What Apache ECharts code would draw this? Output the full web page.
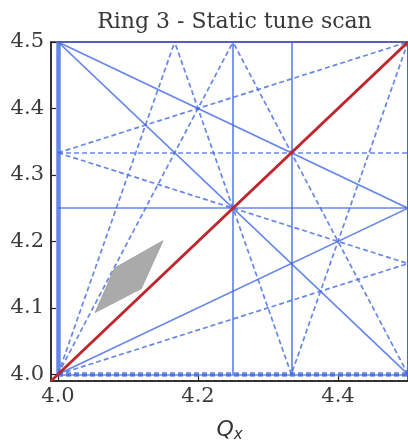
<!DOCTYPE html>
<html>
<head>
<meta charset="utf-8">
<script src="https://cdn.jsdelivr.net/npm/echarts@6/dist/echarts.min.js"></script>
<style>
  html, body { margin: 0; padding: 0; background: #ffffff; }
  #chart { width: 408px; height: 448px; }
</style>
</head>
<body>
<div id="chart"></div>
<script>
// Tune window (one half-cell of the integer tune square)
const qMin = 4.0;
const qMax = 4.5;
const axisMin = 3.99;

// Resonance lines m*Qx + n*Qy = p, up to 4th order
// normal resonances (n even) are drawn solid, skew resonances (n odd) dashed
const normalResonances = [
  [1, 0, 4], [2, 0, 9], [3, 0, 13], [4, 0, 17],
  [0, 2, 8], [0, 2, 9], [0, 4, 17],
  [1, 2, 13], [1, -2, -4], [2, 2, 17], [2, -2, 0]
];
const skewResonances = [
  [0, 1, 4], [0, 3, 13],
  [2, 1, 13], [2, -1, 4],
  [3, 1, 17], [3, -1, 8], [3, -1, 9],
  [1, 3, 17], [1, -3, -8], [1, -3, -9],
  [1, -1, 0]
];

// Scanned tune footprint (Qx, Qy corners)
const scanQx = [4.053, 4.081, 4.150, 4.119];
const scanQy = [4.093, 4.160, 4.201, 4.129];

// Tick labels
const xTicks = [4.0, 4.2, 4.4];
const yTicks = [4.0, 4.1, 4.2, 4.3, 4.4, 4.5];

const blue = '#4169e1';
const serif = '"DejaVu Serif", "Liberation Serif", serif';

// Clip the line m*x + n*y = p to the tune window
function segment(m, n, p) {
  const eps = 1e-9;
  const pts = [];
  const inside = v => v >= qMin - eps && v <= qMax + eps;
  if (n !== 0) {
    [qMin, qMax].forEach(x => {
      const y = (p - m * x) / n;
      if (inside(y)) pts.push([x, y]);
    });
  }
  if (m !== 0) {
    [qMin, qMax].forEach(y => {
      const x = (p - n * y) / m;
      if (inside(x)) pts.push([x, y]);
    });
  }
  let best = null, bestD = 1e-6;
  for (let i = 0; i < pts.length; i++) {
    for (let j = i + 1; j < pts.length; j++) {
      const d = Math.hypot(pts[i][0] - pts[j][0], pts[i][1] - pts[j][1]);
      if (d > bestD) { bestD = d; best = [pts[i], pts[j]]; }
    }
  }
  return best;
}

function resonanceData(list, dashed) {
  const out = [];
  list.forEach(([m, n, p]) => {
    const seg = segment(m, n, p);
    if (!seg) return;
    const order = Math.abs(m) + Math.abs(n);
    out.push({
      coords: seg,
      lineStyle: {
        color: blue,
        width: order === 1 ? 4.5 : 1.7,
        type: dashed ? [5, 3] : 'solid',
        opacity: 0.8
      }
    });
  });
  return out;
}

const chart = echarts.init(document.getElementById('chart'), null, { renderer: 'canvas' });

chart.setOption({
  animation: false,
  backgroundColor: '#ffffff',
  title: {
    text: 'Ring 3 - Static tune scan',
    left: 229.5,
    top: 6,
    textAlign: 'center',
    textStyle: { fontFamily: serif, fontSize: 22, fontWeight: 'normal', color: '#383838' }
  },
  grid: {
    left: 51, right: 0, top: 42, bottom: 60,
    show: true, borderColor: '#333333', borderWidth: 1.5, backgroundColor: 'transparent'
  },
  xAxis: {
    type: 'value',
    min: axisMin, max: qMax,
    name: '{q|Q}{s|x}',
    nameLocation: 'middle',
    nameGap: 37,
    nameTextStyle: {
      rich: {
        q: { fontFamily: '"DejaVu Sans", sans-serif', fontStyle: 'italic', fontSize: 22, color: '#333333' },
        s: { fontFamily: '"DejaVu Sans", sans-serif', fontStyle: 'italic', fontSize: 15, color: '#333333', padding: [10, 0, 0, 0] }
      }
    },
    axisLine: { show: true, onZero: false, lineStyle: { color: '#222222', width: 1.5 } },
    axisTick: { show: true, inside: true, length: 5, customValues: xTicks, lineStyle: { color: '#222222', width: 1.2 } },
    axisLabel: {
      customValues: xTicks, margin: 5,
      formatter: v => v.toFixed(1),
      fontFamily: serif, fontSize: 21, color: '#3a3a3a'
    },
    splitLine: { show: false }
  },
  yAxis: {
    type: 'value',
    min: axisMin, max: qMax,
    axisLine: { show: true, onZero: false, lineStyle: { color: '#222222', width: 1.5 } },
    axisTick: { show: true, inside: true, length: 5, customValues: yTicks, lineStyle: { color: '#222222', width: 1.2 } },
    axisLabel: {
      customValues: yTicks, margin: 7,
      formatter: v => v.toFixed(1),
      fontFamily: serif, fontSize: 21, color: '#3a3a3a'
    },
    splitLine: { show: false }
  },
  series: [
    {
      type: 'lines',
      coordinateSystem: 'cartesian2d',
      silent: true,
      z: 2,
      data: resonanceData(normalResonances, false)
    },
    {
      type: 'lines',
      coordinateSystem: 'cartesian2d',
      silent: true,
      z: 2,
      data: resonanceData(skewResonances, true)
    },
    {
      // coupling line Qx = Qy across the whole axis range
      type: 'line',
      silent: true,
      z: 3,
      symbol: 'none',
      data: [[axisMin, axisMin], [qMax, qMax]],
      lineStyle: { color: '#c0262b', width: 2.8 }
    },
    {
      type: 'custom',
      silent: true,
      z: 4,
      data: [0],
      renderItem: (params, api) => {
        const points = scanQx.map((qx, i) => api.coord([qx, scanQy[i]]));
        return {
          type: 'polygon',
          shape: { points },
          style: { fill: '#aaaaaa', stroke: '#999999', lineWidth: 0.8 }
        };
      }
    }
  ]
});
</script>
</body>
</html>
